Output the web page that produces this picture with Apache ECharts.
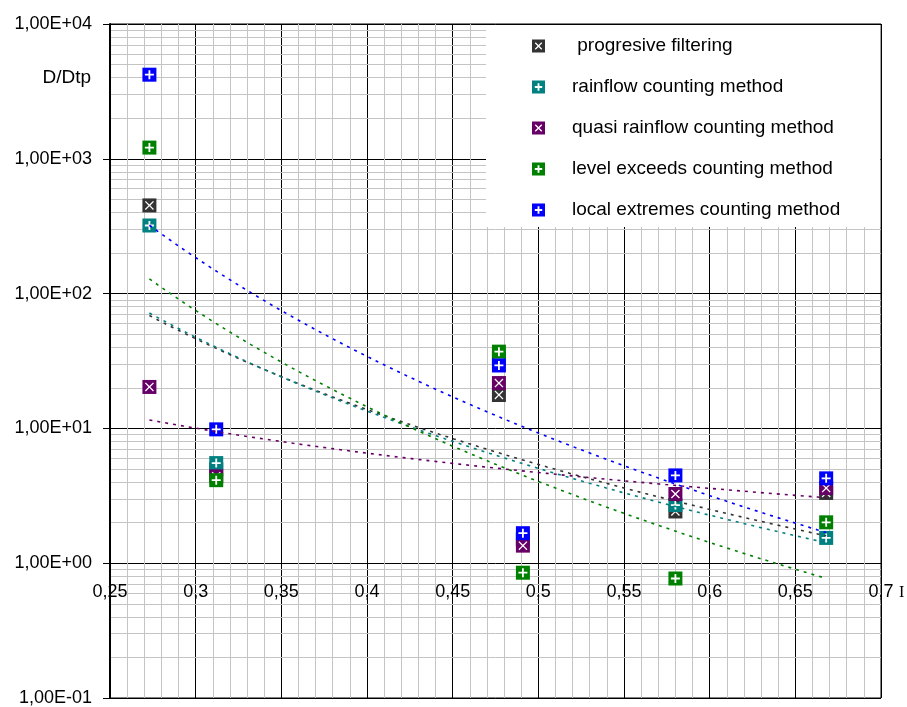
<!DOCTYPE html>
<html>
<head>
<meta charset="utf-8">
<script src="https://cdn.jsdelivr.net/npm/echarts@6/dist/echarts.min.js"></script>
<style>
  html, body { margin: 0; padding: 0; background: #fff; }
  #chart { width: 907px; height: 707px; }
</style>
</head>
<body>
<div id="chart"></div>
<script>
// ---- data ----
const xValues = [0.273, 0.312, 0.477, 0.491, 0.580, 0.668];
const progresiveFiltering = [451, 4.97, 17.7, 1.5, 2.42, 3.32];
const rainflowCounting   = [320, 5.53, 33, 1.5, 2.70, 1.54];
const quasiRainflow      = [20.3, 4.41, 21.7, 1.35, 3.26, 3.61];
const levelExceeds       = [1211, 4.13, 37.1, 0.85, 0.77, 2.01];
const localExtremes      = [4207, 9.84, 29.3, 1.67, 4.48, 4.26];

const seriesNames = [' progresive filtering', 'rainflow counting method', 'quasi rainflow counting method',
                     'level exceeds counting method', 'local extremes counting method'];
const xTicks = [0.25, 0.3, 0.35, 0.4, 0.45, 0.5, 0.55, 0.6, 0.65, 0.7];
const xTickLabels = ['0,25', '0,3', '0,35', '0,4', '0,45', '0,5', '0,55', '0,6', '0,65', '0,7'];
const yTicks = [0.1, 1, 10, 100, 1000, 10000];
const yTickLabels = ['1,00E-01', '1,00E+00', '1,00E+01', '1,00E+02', '1,00E+03', '1,00E+04'];

// ---- styles ----
const colors = ['#333333', '#008080', '#660066', '#008000', '#0000ff'];
const markKind = ['cross', 'plus', 'cross', 'plus', 'plus'];
const allData = [progresiveFiltering, rainflowCounting, quasiRainflow, levelExceeds, localExtremes];
const FONT = "'Liberation Sans', Arial, sans-serif";
const MINOR = '#c4c4c4';
// legend box corner in axis units (legend box hides the grid there)
const BOX_X = 0.4695, BOX_Y = 315;

const PLUS = 'path://M4,0H6V4H10V6H6V10H4V6H0V4H4Z';
const CROSS = 'path://M1,0L5,4L9,0L10,1L6,5L10,9L9,10L5,6L1,10L0,9L4,5L0,1Z';
const PLUS_ICON = 'path://M0,0H14V14H0Z M6,3V6H3V8H6V11H8V8H11V6H8V3Z';
const CROSS_ICON = 'path://M0,0H14V14H0Z M3,4L6,7L3,10L4,11L7,8L10,11L11,10L8,7L11,4L10,3L7,6L4,3Z';

// power-law trendline (least squares on log-log), as the spreadsheet does
function powerFit(xs, ys) {
  const lx = xs.map(Math.log10), ly = ys.map(Math.log10);
  const n = xs.length;
  const mx = lx.reduce((a, b) => a + b, 0) / n, my = ly.reduce((a, b) => a + b, 0) / n;
  let sxy = 0, sxx = 0;
  for (let i = 0; i < n; i++) { sxy += (lx[i] - mx) * (ly[i] - my); sxx += (lx[i] - mx) ** 2; }
  const b = sxy / sxx, a = my - b * mx;
  const x0 = Math.min(...xs), x1 = Math.max(...xs);
  const pts = [];
  const N = 80;
  for (let i = 0; i <= N; i++) {
    const x = x0 + (x1 - x0) * i / N;
    pts.push([x, Math.pow(10, a + b * Math.log10(x))]);
  }
  return pts;
}

// minor grid lines, stopped at the legend box
const xMin = xTicks[0], xMax = xTicks[xTicks.length - 1];
const yMin = yTicks[0], yMax = yTicks[yTicks.length - 1];
const minorLines = [];
for (let i = 0; i < yTicks.length - 1; i++) {
  for (let m = 2; m <= 9; m++) {
    const v = yTicks[i] * m;
    if (v > BOX_Y) minorLines.push([{ coord: [xMin, v] }, { coord: [BOX_X, v] }]);
    else minorLines.push({ yAxis: v });
  }
}
for (let i = 0; i < xTicks.length - 1; i++) {
  for (let j = 1; j < 5; j++) {
    const v = xTicks[i] + (xTicks[i + 1] - xTicks[i]) * j / 5;
    if (v > BOX_X) minorLines.push([{ coord: [v, yMin] }, { coord: [v, BOX_Y] }]);
    else minorLines.push({ xAxis: v });
  }
}

const series = [];
series.push({
  name: '_grid', type: 'line', data: [], silent: true, z: 0, animation: false,
  markLine: {
    silent: true, symbol: ['none', 'none'], label: { show: false }, animation: false, z: 0,
    lineStyle: { color: MINOR, width: 1, type: 'solid' },
    data: minorLines
  }
});

allData.forEach((arr, k) => {
  const pts = xValues.map((x, i) => [x, arr[i]]);
  series.push({
    name: seriesNames[k], type: 'scatter', data: pts, symbol: 'rect', symbolSize: 14,
    itemStyle: { color: colors[k], opacity: 1, borderWidth: 0 }, z: 2
  });
  series.push({
    name: '_mk' + k, type: 'scatter', data: pts, symbol: markKind[k] === 'plus' ? PLUS : CROSS,
    symbolSize: 9, itemStyle: { color: '#ffffff', opacity: 1 }, z: 2, silent: true
  });
});
allData.forEach((arr, k) => {
  series.push({
    name: '_trend' + k, type: 'line', data: powerFit(xValues, arr), showSymbol: false, symbol: 'none',
    lineStyle: { color: colors[k], width: 1.6, type: [3, 5] }, z: 3, silent: true
  });
});

const chart = echarts.init(document.getElementById('chart'), null, { renderer: 'canvas' });
chart.setOption({
  animation: false,
  backgroundColor: '#ffffff',
  grid: { left: 110, right: 26, top: 24, bottom: 7, show: true, borderColor: '#000', borderWidth: 1 },
  xAxis: {
    type: 'value', min: xMin, max: xMax, interval: 0.05, offset: -136,
    axisLine: { show: false }, axisTick: { show: false },
    axisLabel: {
      show: true, margin: 21, fontSize: 18, fontFamily: FONT, color: '#000',
      showMinLabel: true, showMaxLabel: true, hideOverlap: false,
      formatter: v => { const i = xTicks.findIndex(t => Math.abs(t - v) < 1e-6); return i >= 0 ? xTickLabels[i] : ''; }
    },
    splitLine: { show: true, lineStyle: { color: '#000', width: 1 } },
    minorTick: { show: false },
    minorSplitLine: { show: false }
  },
  yAxis: {
    type: 'log', logBase: 10, min: yMin, max: yMax,
    axisLine: { show: true, lineStyle: { color: '#000', width: 2 } },
    axisTick: { show: true, length: 7, lineStyle: { color: '#000', width: 1 } },
    axisLabel: {
      margin: 18, fontSize: 18, fontFamily: FONT, color: '#000', showMinLabel: true, showMaxLabel: true,
      formatter: v => { const i = Math.round(Math.log10(v)) + 1; return yTickLabels[i] || ''; }
    },
    minorTick: { show: false },
    minorSplitLine: { show: false },
    splitLine: { show: true, lineStyle: { color: '#000', width: 1 } }
  },
  legend: {
    orient: 'vertical', left: 486, top: 25, padding: [11, 40, 7, 46], itemGap: 21, z: 101,
    backgroundColor: '#ffffff',
    itemWidth: 13, itemHeight: 13, selectedMode: false,
    textStyle: { fontSize: 19, fontFamily: FONT, color: '#000', lineHeight: 20, padding: [0, 0, 0, 22] },
    data: seriesNames.map((n, k) => ({ name: n, icon: markKind[k] === 'plus' ? PLUS_ICON : CROSS_ICON }))
  },
  graphic: {
    elements: [
      { type: 'rect', z: 100, shape: { x: 486, y: 25, width: 394, height: 202 }, style: { fill: '#ffffff' } },
      { type: 'text', z: 100, style: { text: 'D/Dtp', x: 91, y: 78, align: 'right', verticalAlign: 'middle', fontSize: 19, fontFamily: FONT, fill: '#000' } },
      { type: 'text', z: 100, style: { text: 'I', x: 899, y: 593, align: 'left', verticalAlign: 'middle', fontSize: 16, fontFamily: "'Liberation Serif', 'Times New Roman', serif", fill: '#000' } }
    ]
  },
  series: series
});
</script>
</body>
</html>
